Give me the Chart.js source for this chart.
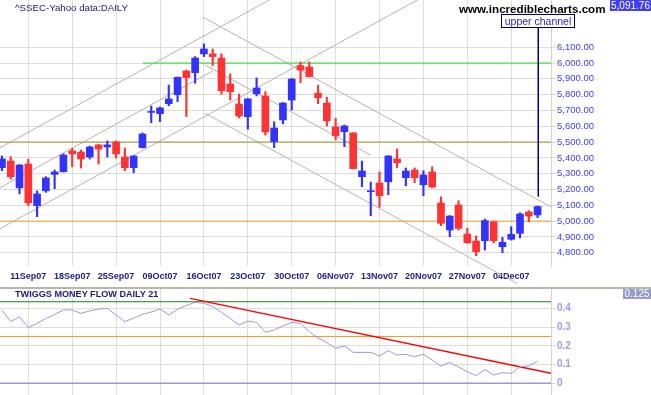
<!DOCTYPE html>
<html>
<head>
<meta charset="utf-8">
<script src="https://cdn.jsdelivr.net/npm/chart.js@4/dist/chart.umd.min.js"></script>
<style>
  body { margin: 0; background: #fff; }
  #wrap { position: relative; width: 651px; height: 395px; overflow: hidden; font-family: 'Liberation Sans', Arial, sans-serif; }
  canvas { position: absolute; left: 0; }
  .txt { position: absolute; white-space: nowrap; line-height: 1; }
</style>
</head>
<body>
<div id="wrap">
  <canvas id="price" width="651" height="287" style="top:0"></canvas>
  <div style="position:absolute;left:0;top:287px;width:651px;height:2px;background:#b8b8a8"></div>
  <canvas id="flow" width="651" height="106" style="top:289px"></canvas>

  <div class="txt" style="left:15px;top:3px;font-size:9.7px;color:#1a1a80">^SSEC-Yahoo data:DAILY</div>
  <div class="txt" style="left:459px;top:3px;font-size:11.6px;font-weight:bold;color:#000">www.incrediblecharts.com</div>
  <div class="txt" style="left:610px;top:0;width:41px;height:11px;background:#4040f0;color:#fff;font-size:10px;text-align:center;line-height:11px">5,091.76</div>
  <div class="txt" style="left:501px;top:14px;width:72px;height:12px;border:1px solid #000066;background:#fff;color:#2a2ab0;font-size:10.5px;text-align:center;line-height:12px">upper channel</div>
  <div class="txt" style="left:15px;top:290px;font-size:9.1px;font-weight:bold;color:#1a1a80">TWIGGS MONEY FLOW DAILY 21</div>
  <div class="txt" style="left:623px;top:289px;width:28px;height:10px;background:#9999cc;color:#fff;font-size:10px;text-align:center;line-height:10px">0.125</div>
</div>
<script>
// ^SSEC daily, 06 Sep 2007 .. 07 Dec 2007 (trading day index 0..61)
const TICK_IDX    = [3, 8, 13, 18, 23, 28, 33, 38, 43, 48, 53, 58];
const TICK_LABELS = ['11Sep07', '18Sep07', '25Sep07', '09Oct07', '16Oct07', '23Oct07',
                     '30Oct07', '06Nov07', '13Nov07', '20Nov07', '27Nov07', '04Dec07'];

const OPEN  = [5338,5380,5211,5361,5098,5192,5296,5313,5444,5437,5406,5482,5469,5501,5406,5338,
               5465,5688,5680,5743,5800,5950,5939,6058,6058,6032,5868,5741,5661,5806,5792,5503,
               5640,5766,5984,5975,5809,5747,5596,5566,5558,5281,5186,5241,5249,5393,5275,5323,
               5230,5311,5115,4944,5102,4918,4874,4876,4996,4838,4885,4923,5058,5039];
const HIGH  = [5412,5408,5358,5393,5191,5281,5323,5425,5461,5450,5475,5486,5507,5507,5463,5415,
               5558,5728,5722,5861,5912,5956,6041,6121,6089,6058,5931,5804,5776,5906,5819,5629,
               5750,5902,6007,6007,5860,5784,5651,5608,5560,5380,5247,5311,5415,5456,5336,5336,
               5319,5344,5154,5035,5129,4954,4906,5013,5000,4897,4965,5053,5066,5096];
const LOW   = [5319,5266,5172,5098,5028,5182,5205,5310,5344,5336,5393,5361,5406,5399,5319,5306,
               5462,5623,5629,5730,5756,5661,5872,6041,5984,5804,5766,5654,5581,5792,5545,5465,
               5615,5703,5876,5911,5743,5602,5513,5471,5330,5218,5034,5087,5167,5338,5224,5243,
               5161,5211,4971,4901,4944,4859,4781,4817,4863,4800,4880,4893,4996,5022];
const CLOSE = [5393,5281,5355,5116,5172,5273,5311,5418,5425,5393,5469,5456,5482,5425,5338,5412,
               5551,5694,5716,5773,5910,5908,6032,6089,6041,5825,5819,5665,5773,5842,5564,5589,
               5747,5899,5956,5914,5781,5635,5541,5602,5332,5317,5192,5161,5412,5370,5317,5275,
               5292,5216,4986,5032,4954,4863,4806,5003,4876,4866,4916,5045,5032,5092];

const PRICE_TICKS = [4800, 4900, 5000, 5100, 5200, 5300, 5400, 5500, 5600, 5700, 5800, 5900, 6000, 6100];

// horizontal levels
const LEVEL_GREEN  = [[16.06, 6000], [62.6, 6000]];
const LEVEL_OLIVE  = [[-0.3, 5500], [62.6, 5500]];
const LEVEL_ORANGE = [[-0.3, 5000], [62.6, 5000]];

// trend channels, [day index, price] end points
const UP_TOP    = [[-0.22, 5464], [31, 6416]];
const UP_MID    = [[-0.22, 5211], [24, 5950]];
const UP_BOTTOM = [[-0.22, 4952], [48, 6420]];
const DN_TOP    = [[22.9, 6290], [62.6, 5088]];
const DN_MID    = [[23.1, 5989], [42, 5417]];
const DN_LOW    = [[23.1, 5683], [58.66, 4606]];
const CALLOUT   = [[61.08, 6222], [61.08, 5154]];

// Twiggs money flow (21)
const FLOW = [0.391,0.329,0.355,0.297,0.32,0.345,0.367,0.391,0.391,0.373,0.386,0.396,0.40,0.364,0.329,0.348,
              0.368,0.38,0.396,0.364,0.395,0.415,0.432,0.427,0.41,0.378,0.346,0.311,0.332,0.325,0.272,0.284,
              0.306,0.325,0.32,0.275,0.242,0.217,0.187,0.199,0.165,0.165,0.165,0.146,0.174,0.151,0.155,0.142,
              0.155,0.124,0.092,0.112,0.087,0.062,0.041,0.073,0.044,0.057,0.053,0.089,0.092,0.118];
const FLOW_TICKS = [0, 0.1, 0.2, 0.3, 0.4];
const FLOW_HIGH  = [[-0.3, 0.435], [62.6, 0.435]];
const FLOW_MID   = [[-0.3, 0.25], [62.6, 0.25]];
const FLOW_ZERO  = [[-0.3, 0], [62.6, 0]];
const FLOW_TREND = [[21.42, 0.453], [62.53, 0.053]];

const X_MIN = -0.223, X_MAX = 62.53;
const UP = '#3333ff', DOWN = '#ff3333', GRID = '#dddddd';

Chart.defaults.font.family = "'Liberation Sans', Arial, sans-serif";

const pts = arr => arr.map(([x, y]) => ({ x, y }));
const candleColor = OPEN.map((o, i) => CLOSE[i] >= o ? UP : DOWN);

function lineSet(arr, color, order, extra) {
  return Object.assign({
    type: 'line', data: pts(arr), borderColor: color, borderWidth: 1,
    pointRadius: 0, fill: false, order,
  }, extra || {});
}

function noPad(s) { s.paddingTop = 0; s.paddingBottom = 0; s.paddingLeft = 0; s.paddingRight = 0; }

function xAxis(showLabels, height) {
  return {
    type: 'linear', min: X_MIN, max: X_MAX, offset: false,
    afterBuildTicks: s => { s.ticks = TICK_IDX.map(v => ({ value: v })); },
    afterFit: s => { s.height = height; noPad(s); },
    grid: { color: GRID, drawTicks: false, offset: false },
    border: { display: false },
    ticks: {
      display: showLabels, autoSkip: false, maxRotation: 0, padding: 5,
      color: '#1c1c8c', font: { size: 9, weight: 'bold' },
      callback: v => TICK_LABELS[TICK_IDX.indexOf(v)],
    },
  };
}

// --- price panel ---
new Chart(document.getElementById('price'), {
  type: 'bar',
  data: {
    datasets: [
      {
        data: OPEN.map((o, i) => ({ x: i, y: [o, CLOSE[i]] })),
        backgroundColor: candleColor, borderWidth: 0, barThickness: 7, grouped: false, order: 0,
      },
      {
        data: OPEN.map((o, i) => ({ x: i, y: [LOW[i], HIGH[i]] })),
        backgroundColor: candleColor, borderWidth: 0, barThickness: 1.5, grouped: false, order: 1,
      },
      lineSet(LEVEL_GREEN, '#22dd22', 2),
      lineSet(LEVEL_OLIVE, '#999922', 2),
      lineSet(LEVEL_ORANGE, '#f0a030', 2),
      lineSet(UP_TOP, '#b4b4b4', 3),
      lineSet(UP_MID, '#b4b4b4', 3),
      lineSet(UP_BOTTOM, '#b4b4b4', 3),
      lineSet(DN_TOP, '#b4b4b4', 3),
      lineSet(DN_MID, '#b4b4b4', 3),
      lineSet(DN_LOW, '#b4b4b4', 3, { clip: { left: 0, top: 0, right: 0, bottom: 20 } }),
      lineSet(CALLOUT, '#000080', 0, { borderWidth: 1.5, clip: { left: 0, top: 30, right: 0, bottom: 0 } }),
    ],
  },
  options: {
    responsive: false,
    animation: false,
    layout: { padding: 0 },
    plugins: { legend: { display: false }, tooltip: { enabled: false } },
    scales: {
      x: xAxis(true, 21),
      y: {
        position: 'right', min: 4716, max: 6399,
        afterBuildTicks: s => { s.ticks = PRICE_TICKS.map(v => ({ value: v })); },
        afterFit: s => { s.width = 100; noPad(s); },
        grid: { color: GRID, tickLength: 5 },
        border: { color: '#d4d4d4' },
        ticks: {
          padding: 1, color: '#3a3aff', font: { size: 9.5 },
          callback: v => v.toLocaleString('en-US', { minimumFractionDigits: 2, maximumFractionDigits: 2 }),
        },
      },
    },
  },
});

// --- money flow panel ---
new Chart(document.getElementById('flow'), {
  type: 'line',
  data: {
    datasets: [
      lineSet(FLOW.map((v, i) => [i, v]), '#9a9ad6', 0),
      lineSet(FLOW_TREND, '#ff0000', 1, { borderWidth: 1.5 }),
      lineSet(FLOW_HIGH, '#118811', 2),
      lineSet(FLOW_MID, '#f09020', 2),
      lineSet(FLOW_ZERO, '#9999d6', 2, { borderWidth: 1.5 }),
    ],
  },
  options: {
    responsive: false,
    animation: false,
    layout: { padding: 0 },
    plugins: { legend: { display: false }, tooltip: { enabled: false } },
    scales: {
      x: xAxis(false, 0),
      y: {
        position: 'right', min: -0.0624, max: 0.503,
        afterBuildTicks: s => { s.ticks = FLOW_TICKS.map(v => ({ value: v })); },
        afterFit: s => { s.width = 100; noPad(s); },
        grid: { color: GRID, tickLength: 5 },
        border: { color: '#d4d4d4' },
        ticks: {
          padding: 1, color: '#9c9ce0', font: { size: 10, weight: 'bold' },
          callback: v => v === 0 ? '0' : v.toFixed(1),
        },
      },
    },
  },
});
</script>
</body>
</html>
